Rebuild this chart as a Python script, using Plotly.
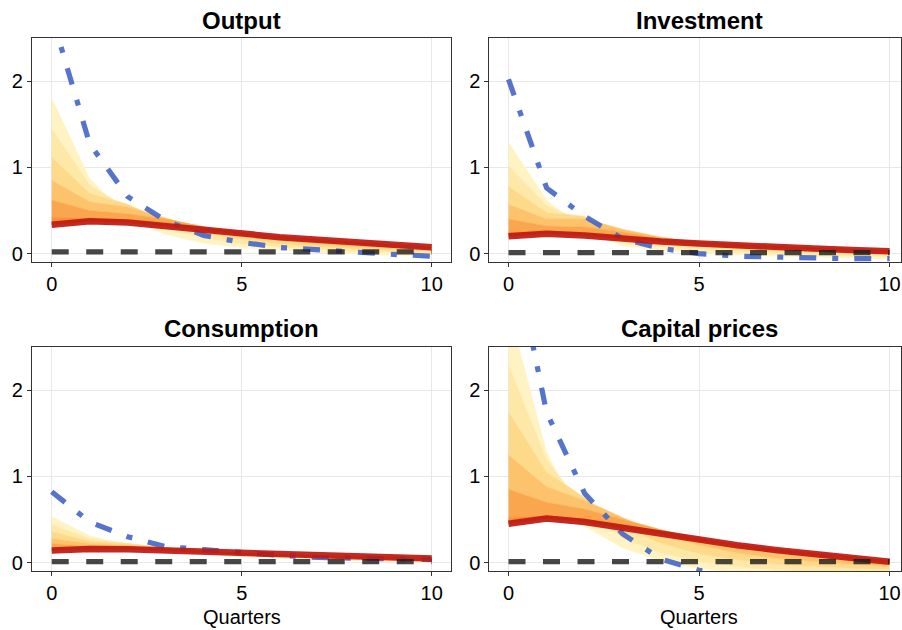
import plotly.graph_objects as go

# ---------------- data ----------------
quarters = [0, 1, 2, 3, 4, 5, 6, 7, 8, 9, 10]
panel_titles = ["Output", "Investment", "Consumption", "Capital prices"]
x_tick_vals = [0, 5, 10]
y_tick_vals = [0, 1, 2]
x_title = "Quarters"

# Output
output_red = [0.335, 0.373, 0.36, 0.315, 0.27, 0.23, 0.19, 0.16, 0.13, 0.10, 0.073]
output_blue = [2.76, 1.27, 0.66, 0.38, 0.21, 0.13, 0.07, 0.04, 0.015, -0.01, -0.03]
output_base = [0.02, 0.02, 0.02, 0.02, 0.02, 0.02, 0.02, 0.02, 0.02, 0.02, 0.02]
output_fan = [
    [1.80, 0.87, 0.42, 0.22, 0.12, 0.07, 0.04, 0.015, 0.0, -0.02, -0.03],
    [1.45, 0.80, 0.52, 0.30, 0.18, 0.11, 0.07, 0.045, 0.025, 0.01, 0.0],
    [1.12, 0.70, 0.57, 0.37, 0.24, 0.16, 0.11, 0.075, 0.05, 0.035, 0.02],
    [0.85, 0.60, 0.54, 0.41, 0.29, 0.20, 0.15, 0.11, 0.08, 0.06, 0.045],
    [0.62, 0.50, 0.46, 0.40, 0.31, 0.24, 0.18, 0.14, 0.11, 0.08, 0.06],
    [0.42, 0.41, 0.39, 0.35, 0.29, 0.24, 0.195, 0.16, 0.13, 0.10, 0.072],
]

# Investment
invest_red = [0.20, 0.23, 0.21, 0.17, 0.14, 0.115, 0.09, 0.073, 0.058, 0.042, 0.027]
invest_blue = [2.02, 0.76, 0.43, 0.17, 0.06, 0.0, -0.03, -0.045, -0.055, -0.06, -0.06]
invest_base = [0.01, 0.01, 0.01, 0.01, 0.01, 0.01, 0.01, 0.01, 0.01, 0.01, 0.01]
invest_fan = [
    [1.29, 0.62, 0.26, 0.09, 0.04, 0.01, -0.01, -0.03, -0.04, -0.05, -0.06],
    [1.02, 0.56, 0.36, 0.15, 0.08, 0.04, 0.015, -0.005, -0.02, -0.03, -0.04],
    [0.78, 0.48, 0.43, 0.22, 0.13, 0.08, 0.05, 0.025, 0.01, -0.005, -0.015],
    [0.57, 0.40, 0.40, 0.28, 0.19, 0.12, 0.08, 0.055, 0.035, 0.02, 0.005],
    [0.40, 0.32, 0.31, 0.25, 0.18, 0.135, 0.10, 0.075, 0.055, 0.04, 0.025],
    [0.25, 0.26, 0.24, 0.20, 0.16, 0.125, 0.10, 0.08, 0.063, 0.047, 0.032],
]

# Consumption
cons_red = [0.14, 0.157, 0.153, 0.14, 0.12, 0.10, 0.09, 0.077, 0.065, 0.054, 0.046]
cons_blue = [0.82, 0.47, 0.30, 0.185, 0.15, 0.11, 0.083, 0.06, 0.05, 0.04, 0.034]
cons_base = [0.01, 0.01, 0.01, 0.01, 0.01, 0.01, 0.01, 0.01, 0.01, 0.01, 0.01]
cons_fan = [
    [0.53, 0.31, 0.20, 0.14, 0.10, 0.07, 0.05, 0.035, 0.02, 0.01, 0.0],
    [0.44, 0.28, 0.22, 0.16, 0.115, 0.085, 0.065, 0.05, 0.035, 0.025, 0.015],
    [0.36, 0.25, 0.22, 0.17, 0.13, 0.10, 0.075, 0.06, 0.045, 0.035, 0.025],
    [0.28, 0.22, 0.20, 0.17, 0.135, 0.105, 0.085, 0.07, 0.055, 0.045, 0.035],
    [0.22, 0.19, 0.18, 0.16, 0.13, 0.105, 0.09, 0.075, 0.062, 0.05, 0.042],
    [0.16, 0.17, 0.165, 0.15, 0.125, 0.105, 0.09, 0.078, 0.066, 0.055, 0.047],
]

# Capital prices
capital_red = [0.45, 0.51, 0.47, 0.40, 0.33, 0.26, 0.20, 0.146, 0.10, 0.06, 0.01]
capital_blue = [3.9, 1.74, 0.80, 0.33, 0.04, -0.09, -0.17, -0.22, -0.25, -0.26, -0.27]
capital_base = [0.01, 0.01, 0.01, 0.01, 0.01, 0.01, 0.01, 0.01, 0.01, 0.01, 0.01]
capital_fan = [
    [2.95, 1.28, 0.42, 0.17, 0.02, -0.07, -0.12, -0.15, -0.16, -0.17, -0.17],
    [2.30, 1.20, 0.60, 0.28, 0.11, 0.01, -0.05, -0.09, -0.11, -0.12, -0.13],
    [1.75, 1.05, 0.75, 0.42, 0.22, 0.10, 0.03, -0.02, -0.05, -0.07, -0.08],
    [1.25, 0.88, 0.72, 0.52, 0.33, 0.20, 0.11, 0.05, 0.01, -0.02, -0.04],
    [0.85, 0.70, 0.62, 0.50, 0.38, 0.27, 0.18, 0.12, 0.07, 0.03, 0.0],
    [0.52, 0.55, 0.51, 0.44, 0.36, 0.28, 0.21, 0.155, 0.11, 0.065, 0.02],
]

# ---------------- styling ----------------
W, H = 902, 630
FONT = "Liberation Sans, Arial, Helvetica, sans-serif"
fan_line_colors = ["#FFF6CE", "#FEEEB6", "#FDE29A", "#FCCD7A", "#FAB45A", "#F89A40"]
fan_band_colors = ["#FFF3C4", "#FEE8A8", "#FDD98A", "#FCC26C", "#F9A64E"]
FAN_LAST_BAND = "#F7913A"
BLUE = "rgba(72,104,200,0.92)"
RED = "rgba(190,24,16,0.92)"
BLACK = "rgba(30,30,30,0.82)"

panels = [
    dict(red=output_red, blue=output_blue, base=output_base, fan=output_fan,
         px=(32, 452), py=(38, 263), xr=[-0.52, 10.52], title_x=242, title_y=21),
    dict(red=invest_red, blue=invest_blue, base=invest_base, fan=invest_fan,
         px=(490, 902), py=(38, 263), xr=[-0.5, 10.3], title_x=700, title_y=21),
    dict(red=cons_red, blue=cons_blue, base=cons_base, fan=cons_fan,
         px=(32, 452), py=(348, 573), xr=[-0.52, 10.52], title_x=242, title_y=330),
    dict(red=capital_red, blue=capital_blue, base=capital_base, fan=capital_fan,
         px=(490, 902), py=(348, 573), xr=[-0.5, 10.3], title_x=700, title_y=330),
]

fig = go.Figure()
layout = dict(
    width=W, height=H,
    margin=dict(l=0, r=0, t=0, b=0),
    paper_bgcolor="white", plot_bgcolor="white",
    showlegend=False,
    font=dict(family=FONT, size=20, color="black"),
    annotations=[],
)

for i, p in enumerate(panels):
    n = i + 1
    xa = "x" if n == 1 else f"x{n}"
    ya = "y" if n == 1 else f"y{n}"
    # fan of responses (bands between consecutive lines)
    for k, line in enumerate(p["fan"]):
        fig.add_trace(go.Scatter(
            x=quarters, y=line, mode="lines",
            line=dict(color=fan_line_colors[k], width=0.8),
            fill="tonexty" if k > 0 else "none",
            fillcolor=fan_band_colors[k - 1] if k > 0 else None,
            xaxis=xa, yaxis=ya, hoverinfo="skip", showlegend=False))
    # last band closes onto the main (red) response
    fig.add_trace(go.Scatter(
        x=quarters, y=p["red"], mode="lines",
        line=dict(color=FAN_LAST_BAND, width=0.5),
        fill="tonexty", fillcolor=FAN_LAST_BAND,
        xaxis=xa, yaxis=ya, hoverinfo="skip", showlegend=False))
    fig.add_trace(go.Scatter(
        x=quarters, y=p["blue"], mode="lines",
        line=dict(color=BLUE, width=5.2, dash="17px,16px,6px,16px"),
        xaxis=xa, yaxis=ya, showlegend=False))
    fig.add_trace(go.Scatter(
        x=quarters, y=p["red"], mode="lines",
        line=dict(color=RED, width=6.5),
        xaxis=xa, yaxis=ya, showlegend=False))
    fig.add_trace(go.Scatter(
        x=quarters, y=p["base"], mode="lines",
        line=dict(color=BLACK, width=5.3, dash="17px,17.5px"),
        xaxis=xa, yaxis=ya, showlegend=False))

    axis_common = dict(
        showline=True, linecolor="#333333", linewidth=1, mirror=True,
        showgrid=True, gridcolor="#E8E8E8", gridwidth=1,
        zeroline=False, ticks="outside", ticklen=4, tickcolor="#333333",
        tickfont=dict(family=FONT, size=20, color="black"),
    )
    xkey = "xaxis" if n == 1 else f"xaxis{n}"
    ykey = "yaxis" if n == 1 else f"yaxis{n}"
    layout[xkey] = dict(
        axis_common,
        domain=[p["px"][0] / W, min(p["px"][1] / W, 1.0)],
        range=p["xr"], tickvals=x_tick_vals, anchor=ya,
    )
    layout[ykey] = dict(
        axis_common,
        domain=[1 - p["py"][1] / H, 1 - p["py"][0] / H],
        range=[-0.1, 2.5], tickvals=y_tick_vals, anchor=xa,
    )
    layout["annotations"].append(dict(
        text=f"<b>{panel_titles[i]}</b>", xref="paper", yref="paper",
        x=p["title_x"] / W, y=1 - p["title_y"] / H,
        xanchor="center", yanchor="middle", showarrow=False,
        font=dict(family=FONT, size=24, color="black")))
    if n >= 3:
        layout["annotations"].append(dict(
            text=x_title, xref="paper", yref="paper",
            x=p["title_x"] / W, y=1 - 619 / H,
            xanchor="center", yanchor="middle", showarrow=False,
            font=dict(family=FONT, size=20, color="black")))

fig.update_layout(**layout)
fig.write_html(
    "out.html",
    config={"displayModeBar": False},
    post_script="document.body.style.margin='0';document.body.style.padding='0';"
                "document.body.style.overflow='hidden';",
)
